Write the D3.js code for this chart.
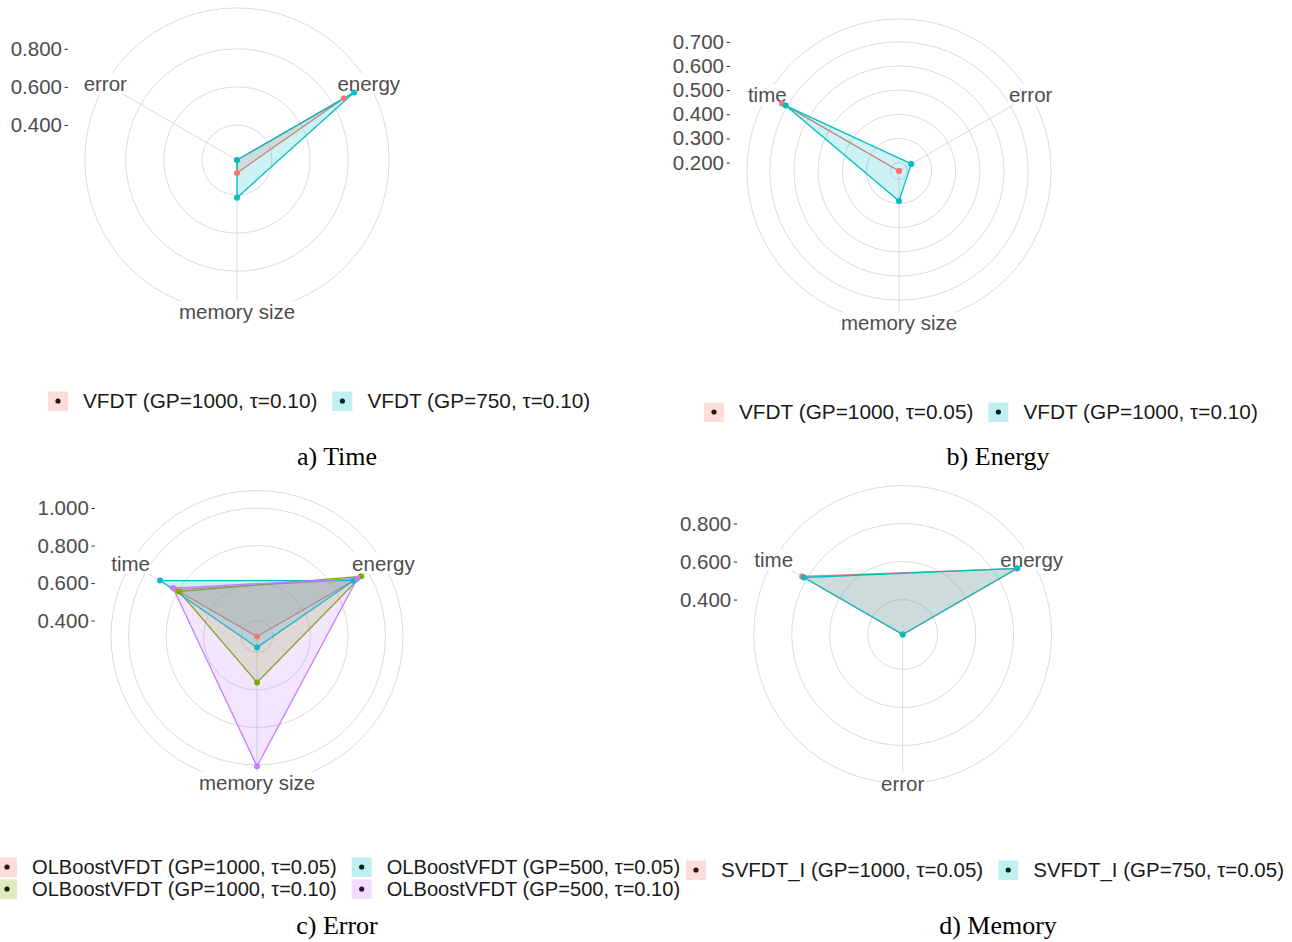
<!DOCTYPE html>
<html><head><meta charset="utf-8">
<script src="https://cdn.jsdelivr.net/npm/d3@7"></script>
<style>body{margin:0;background:#fff} svg{display:block}</style>
</head><body>
<svg id="chart" width="1292" height="942"></svg>
<script>
// ---------------- data ----------------
const colors2 = ["#F8766D", "#00BFC4"];
const colors4 = ["#F8766D", "#7CAE00", "#00BFC4", "#C77CFF"];

// a) Time
const axesA   = ["energy", "memory size", "error"];
const namesA  = ["VFDT (GP=1000, τ=0.10)", "VFDT (GP=750, τ=0.10)"];
const valuesA = [[0.864, 0.284, 0.216], [0.926, 0.414, 0.216]];
const ticksA  = [0.4, 0.6, 0.8];

// b) Energy
const axesB   = ["error", "memory size", "time"];
const namesB  = ["VFDT (GP=1000, τ=0.05)", "VFDT (GP=1000, τ=0.10)"];
const valuesB = [[0.165, 0.165, 0.725], [0.224, 0.289, 0.707]];
const ticksB  = [0.2, 0.3, 0.4, 0.5, 0.6, 0.7];

// c) Error
const axesC   = ["energy", "memory size", "time"];
const namesC  = ["OLBoostVFDT (GP=1000, τ=0.05)", "OLBoostVFDT (GP=1000, τ=0.10)",
                 "OLBoostVFDT (GP=500, τ=0.05)", "OLBoostVFDT (GP=500, τ=0.10)"];
const valuesC = [[0.925, 0.315, 0.816], [0.957, 0.560, 0.795],
                 [0.910, 0.373, 0.912], [0.933, 1.007, 0.832]];
const ticksC  = [0.4, 0.6, 0.8, 1.0];

// d) Memory
const axesD   = ["energy", "error", "time"];
const namesD  = ["SVFDT_I (GP=1000, τ=0.05)", "SVFDT_I (GP=750, τ=0.05)"];
const valuesD = [[0.910, 0.216, 0.827], [0.913, 0.216, 0.816]];
const ticksD  = [0.4, 0.6, 0.8];

const axisAngles = [60, 180, 300]; // degrees, clockwise from top

// ---------------- layout ----------------
const panels = [
  {cx: 237,   cy: 160,   W: 338,   axes: axesA, names: namesA, values: valuesA, colors: colors2, ticks: ticksA,
   legend: {x: 48,  y: 401, rows: 1, fs: 20.8}, caption: {text: "a) Time",   x: 337, y: 465}},
  {cx: 899,   cy: 171,   W: 338,   axes: axesB, names: namesB, values: valuesB, colors: colors2, ticks: ticksB,
   legend: {x: 704, y: 412, rows: 1, fs: 20.8}, caption: {text: "b) Energy", x: 998, y: 465}},
  {cx: 257,   cy: 636.5, W: 324.4, axes: axesC, names: namesC, values: valuesC, colors: colors4, ticks: ticksC,
   legend: {x: -3,  y: 878, rows: 2, fs: 20.1}, caption: {text: "c) Error",  x: 337, y: 934}},
  {cx: 902.7, cy: 634.5, W: 331,   axes: axesD, names: namesD, values: valuesD, colors: colors2, ticks: ticksD,
   legend: {x: 686, y: 870, rows: 1, fs: 20.5}, caption: {text: "d) Memory", x: 998, y: 934}}
];

const svg = d3.select("#chart");
const FONT = "'Liberation Sans', Arial, Helvetica, sans-serif";
const gridColor = "#d6d6d6";
const textGray = "#4d4d4d";
const rad = d => d * Math.PI / 180;

panels.forEach(p => {
  const g = svg.append("g");
  const all = p.values.flat();
  const R0 = 0.4 * p.W, Rout = 0.45 * p.W;
  const r = d3.scaleLinear().domain(d3.extent(all)).range([0, R0]);
  const c = g.append("g").attr("transform", `translate(${p.cx},${p.cy})`);

  // grid circles
  const circ = p.ticks.map(t => r(t)).concat([Rout]);
  c.selectAll("circle.grid").data(circ).join("circle")
    .attr("r", d => d).attr("fill", "none").attr("stroke", gridColor).attr("stroke-width", 0.9);
  // spokes
  c.selectAll("line.spoke").data(axisAngles).join("line")
    .attr("x1", 0).attr("y1", 0)
    .attr("x2", a => Rout * Math.sin(rad(a))).attr("y2", a => -Rout * Math.cos(rad(a)))
    .attr("stroke", gridColor).attr("stroke-width", 0.9);

  // axis labels with white background
  const lab = c.selectAll("g.lab").data(p.axes).join("g")
    .attr("transform", (d, i) => `translate(${Rout * Math.sin(rad(axisAngles[i]))},${-Rout * Math.cos(rad(axisAngles[i]))})`);
  lab.append("text").text(d => d)
    .attr("text-anchor", "middle").attr("dy", "0.35em")
    .style("font-family", FONT).style("font-size", "20.5px").attr("fill", textGray);
  lab.each(function() {
    const t = d3.select(this).select("text").node();
    const b = t.getBBox();
    d3.select(this).insert("rect", "text").attr("x", b.x - 1).attr("y", b.y + 1)
      .attr("width", b.width + 2).attr("height", b.height - 2).attr("fill", "#fff");
  });

  // radial axis (left)
  const yScale = d3.scaleLinear().domain(r.domain()).range([p.cy, p.cy - R0]);
  const left = p.cx - p.W / 2;
  const ax = g.append("g").attr("transform", `translate(${left},0)`)
    .call(d3.axisLeft(yScale).tickValues(p.ticks).tickFormat(d3.format(".3f")).tickSize(3.5).tickPadding(2.5));
  ax.select(".domain").remove();
  ax.selectAll(".tick line").attr("stroke", "#333").attr("stroke-width", 1);
  ax.selectAll(".tick text").style("font-family", FONT).style("font-size", "20.5px").attr("fill", textGray);

  // polygons
  const line = d3.lineRadial().angle((d, i) => rad(axisAngles[i])).radius(d => r(d)).curve(d3.curveLinearClosed);
  c.selectAll("path.series").data(p.values).join("path")
    .attr("d", d => line(d))
    .attr("fill", (d, i) => p.colors[i]).attr("fill-opacity", 0.2)
    .attr("stroke", (d, i) => p.colors[i]).attr("stroke-width", 1.3).attr("stroke-linejoin", "round");
  p.values.forEach((vals, si) => {
    c.selectAll(null).data(vals).join("circle")
      .attr("cx", (d, i) => r(d) * Math.sin(rad(axisAngles[i])))
      .attr("cy", (d, i) => -r(d) * Math.cos(rad(axisAngles[i])))
      .attr("r", 3).attr("fill", p.colors[si]);
  });

  // legend
  const lg = g.append("g");
  const rows = p.legend.rows, pitch = 22;
  const nCols = Math.ceil(p.names.length / rows);
  let colX = p.legend.x;
  for (let col = 0; col < nCols; col++) {
    let maxW = 0;
    for (let row = 0; row < rows; row++) {
      const i = col * rows + row;
      if (i >= p.names.length) break;
      const yc = p.legend.y + (row - (rows - 1) / 2) * pitch;
      lg.append("rect").attr("x", colX).attr("y", yc - 9.5).attr("width", 20).attr("height", 19.5)
        .attr("fill", p.colors[i]).attr("fill-opacity", 0.25);
      lg.append("circle").attr("cx", colX + 10).attr("cy", yc).attr("r", 2.6)
        .attr("fill", d3.interpolateRgb(p.colors[i], "#000")(0.82));
      const t = lg.append("text").attr("x", colX + 35).attr("y", yc).attr("dy", "0.35em")
        .text(p.names[i]).style("font-family", FONT).style("font-size", p.legend.fs + "px").attr("fill", "#1a1a1a");
      maxW = Math.max(maxW, t.node().getComputedTextLength());
    }
    colX = colX + 35 + maxW + 15;
  }

  // caption
  g.append("text").attr("x", p.caption.x).attr("y", p.caption.y).attr("text-anchor", "middle")
    .text(p.caption.text).style("font-family", "'Liberation Serif', 'Times New Roman', serif")
    .style("font-size", "26px").attr("fill", "#000");
});
</script>
</body></html>
